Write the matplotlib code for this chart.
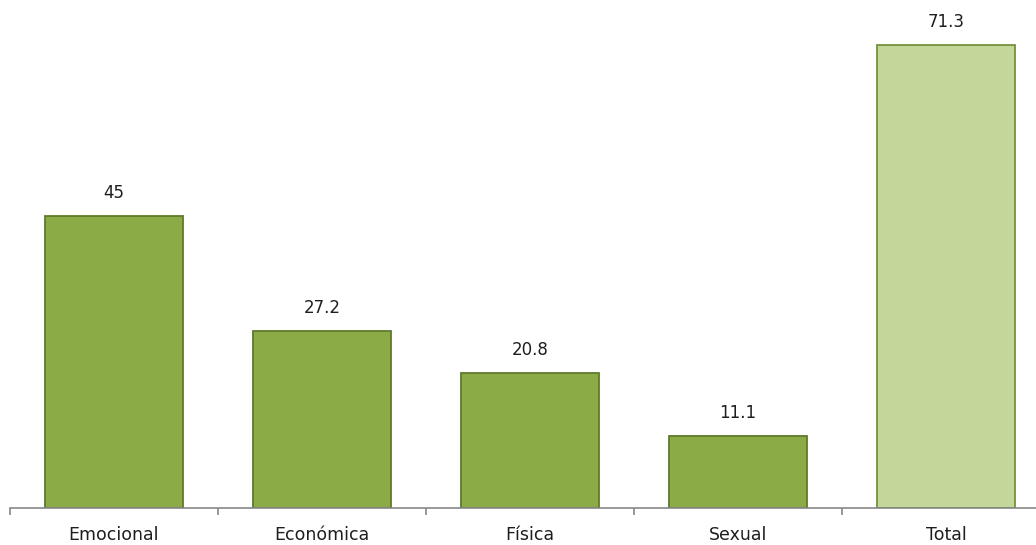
import matplotlib.pyplot as plt

categories = ['Emocional', 'Económica', 'Física', 'Sexual', 'Total']
values = [45, 27.2, 20.8, 11.1, 71.3]
labels = ['45', '27.2', '20.8', '11.1', '71.3']

face = ['#8AAB46', '#8AAB46', '#8AAB46', '#8AAB46', '#C4D79B']
edge = ['#5F7B2B', '#5F7B2B', '#5F7B2B', '#5F7B2B', '#76923C']

plt.rcParams['font.family'] = ['DejaVu Sans']

fig = plt.figure(figsize=(10.36, 5.45), dpi=100)
ax = fig.add_axes([10 / 1036, 37 / 545, 1040 / 1036, 487 / 545])

x = list(range(len(categories)))
ax.bar(x, values, width=0.665, color=face, edgecolor=edge, linewidth=1.3)

# value labels above bars
for xi, v, lab in zip(x, values, labels):
    ax.annotate(lab, (xi, v), xytext=(0, 10), textcoords='offset points',
                ha='center', va='bottom', fontsize=12, color='#1e1e1e')

ax.set_xlim(-0.5, 4.5)
ax.set_ylim(0, 75)
ax.set_xticks(x)
ax.set_xticklabels(categories, fontsize=12.5, color='#1e1e1e')
ax.tick_params(axis='x', which='major', length=0, pad=13)
ax.set_xticks([i - 0.5 for i in range(len(categories) + 1)], minor=True)
ax.tick_params(axis='x', which='minor', length=5, color='#888888', width=1.2)
ax.set_yticks([])

for s in ['top', 'right', 'left']:
    ax.spines[s].set_visible(False)
ax.spines['bottom'].set_color('#888888')
ax.spines['bottom'].set_linewidth(1.2)

fig.savefig('out.png', dpi=100)
